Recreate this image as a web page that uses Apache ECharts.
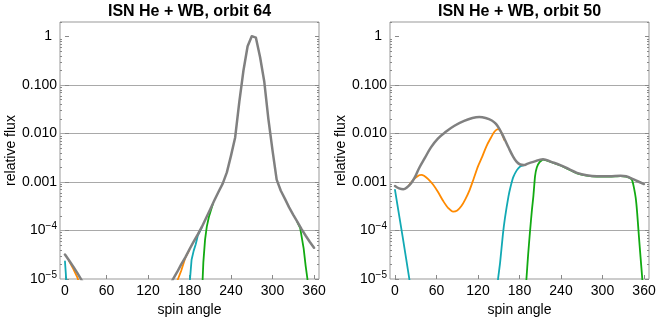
<!DOCTYPE html>
<html><head><meta charset="utf-8">
<script src="https://cdn.jsdelivr.net/npm/echarts@6/dist/echarts.min.js"></script>
<style>html,body{margin:0;padding:0;background:#fff}#c{width:661px;height:325px}</style>
</head><body><div id="c"></div>
<script>
// ---------- axis ticks / labels ----------
const xTicks = [0, 60, 120, 180, 240, 300, 360];
const yTicks = [1e-5, 1e-4, 1e-3, 1e-2, 1e-1, 1];
const yGridLines = [1e-4, 1e-3, 1e-2, 1e-1];
const titles = ['ISN He + WB, orbit 64', 'ISN He + WB, orbit 50'];
const xName = 'spin angle';
const yName = 'relative flux';

// ---------- orbit 64 (left) ----------
const angGray64 = [0,6,12,18,24,30,36,42,48,54,60,66,72,78,84,90,96,102,108,114,120,126,132,138,144,150,156,162,168,174,180,186,192,198,204,210,216,222,228,234,240,246,252,258,264,270,276,282,288,294,300,306,312,318,324,330,336,342,348,354,360];
const gray64 = [3.2e-5,2.4e-5,1.8e-5,1.32e-5,9.5e-6,6.9e-6,5.0e-6,3.5e-6,2.5e-6,1.8e-6,1.26e-6,1.0e-6,7.9e-7,6.3e-7,5.6e-7,5.0e-7,5.0e-7,5.6e-7,6.3e-7,7.9e-7,1.0e-6,1.26e-6,1.8e-6,2.5e-6,4.5e-6,6.8e-6,9.8e-6,1.38e-5,2.0e-5,2.8e-5,4.1e-5,5.9e-5,8.3e-5,1.2e-4,1.82e-4,2.75e-4,4.2e-4,6.3e-4,9.3e-4,1.58e-3,3.5e-3,8.3e-3,0.045,0.20,0.63,1.02,0.95,0.38,0.12,0.020,4.5e-3,1.12e-3,6.6e-4,4.5e-4,3.0e-4,2.1e-4,1.5e-4,1.07e-4,7.8e-5,5.8e-5,4.4e-5];
const angCyan64a = [0, 2, 4];
const cyan64a = [2.3e-5, 8.9e-6, 2.5e-6];
const angOrange64a = [6, 12, 18, 24];
const orange64a = [2.35e-5, 1.62e-5, 1.07e-5, 5.6e-6];
const angOrange64b = [156, 162, 168, 174, 180];
const orange64b = [2.5e-6, 8.9e-6, 1.48e-5, 2.75e-5, 4.0e-5];
const angCyan64b = [178, 181, 183, 186, 189, 192, 198];
const cyan64b = [3.2e-6, 1.12e-5, 2.5e-5, 3.8e-5, 5.2e-5, 7.9e-5, 1.17e-4];
const angGreen64a = [198, 199, 200, 202.5, 205, 208, 214];
const green64a = [4.0e-6, 1.0e-5, 2.2e-5, 6.5e-5, 1.2e-4, 1.9e-4, 3.6e-4];
const angGreen64b = [336, 340, 345, 348, 350.5, 353];
const green64b = [1.48e-4, 1.12e-4, 4.3e-5, 1.82e-5, 1.0e-5, 3.2e-6];

// ---------- orbit 50 (right) ----------
const angGray50 = [0,6,12,18,23,28,35,43,52,62,74,86,100,112,122,131,140,146,152,158,164,170,176,181,186,192,200,214,226,239,251,263,277,292,310,326,334,341,350,360];
const gray50 = [8.3e-4,7.4e-4,7.1e-4,7.9e-4,9.3e-4,1.2e-3,1.95e-3,3.1e-3,5.2e-3,7.9e-3,0.011,0.0145,0.0182,0.0209,0.0219,0.0209,0.0186,0.0158,0.0117,7.9e-3,5.2e-3,3.5e-3,2.6e-3,2.3e-3,2.24e-3,2.4e-3,2.6e-3,2.95e-3,2.6e-3,2.24e-3,1.86e-3,1.55e-3,1.38e-3,1.32e-3,1.32e-3,1.35e-3,1.32e-3,1.2e-3,1.05e-3,9.1e-4];
const angOrange50 = [20,25,30,35,38,42,48,55,62,70,77,84,90,96,102,108,114,120,126,132,138,144,149,153,158];
const orange50 = [8.5e-4,1.05e-3,1.23e-3,1.38e-3,1.41e-3,1.35e-3,1.15e-3,8.9e-4,6.3e-4,4.0e-4,2.9e-4,2.45e-4,2.6e-4,3.2e-4,4.5e-4,6.9e-4,1.2e-3,2.1e-3,3.3e-3,5.4e-3,7.9e-3,0.011,0.0123,0.011,7.4e-3];
const angCyan50a = [0, 5, 11, 16, 21, 26];
const cyan50a = [6.9e-4, 2.5e-4, 7.6e-5, 2.7e-5, 9.5e-6, 3.2e-6];
const angCyan50b = [146,149,152,156,159,164,167,171,176,181,186];
const cyan50b = [3.2e-6,1.0e-5,2.2e-5,8.3e-5,1.82e-4,5.0e-4,7.9e-4,1.26e-3,1.74e-3,2.1e-3,2.2e-3];
const angGreen50 = [188,190,192.5,195,198,200,202.5,205,209,214,226,239,251,263,277,292,310,326,334,341,343,345.5,348,350,352.6,355,357.5,360];
const green50 = [4.0e-6,1.0e-5,3.2e-5,8.9e-5,2.7e-4,5.0e-4,1.32e-3,2.0e-3,2.57e-3,2.9e-3,2.57e-3,2.19e-3,1.82e-3,1.51e-3,1.35e-3,1.29e-3,1.29e-3,1.32e-3,1.29e-3,1.17e-3,1.07e-3,7.6e-4,4.7e-4,2.4e-4,7.6e-5,2.8e-5,1.0e-5,3.2e-6];

// ---------- styling ----------
const FONT = 'Liberation Sans, Arial, Helvetica, sans-serif';
const C_GRAY = '#808080', C_ORANGE = '#ff8a00', C_CYAN = '#12a9b4', C_GREEN = '#12aa12';
const FRAME = '#999999', GRIDC = '#a9a9a9', TICKC = '#888888';
const gridRects = [{left: 60, top: 22, width: 259, height: 257}, {left: 390, top: 22, width: 259, height: 257}];

const minorVals = [];
for (let e = -5; e <= 0; e++) for (let m = 2; m <= 9; m++) { const v = m * Math.pow(10, e); if (v <= 2) minorVals.push(v); }

function yFmt(v) {
  const e = Math.round(Math.log10(v));
  if (e === 0) return '{one|1}';
  if (e === -1) return '0.100';
  if (e === -2) return '0.010';
  if (e === -3) return '0.001';
  return '10{sup|\u2212' + (-e) + '}';
}

const grids = [], xAxes = [], yAxes = [], series = [], mainY = [];
gridRects.forEach((r, g) => {
  grids.push(Object.assign({show: true, borderColor: FRAME, borderWidth: 1, backgroundColor: 'transparent'}, r));
  xAxes.push({
    type: 'value', gridIndex: g, min: -7.2, max: 367.2, position: 'bottom',
    axisLine: {show: false}, splitLine: {show: false},
    axisTick: {show: true, inside: true, length: 4, customValues: xTicks, lineStyle: {color: TICKC}},
    axisLabel: {customValues: xTicks, fontSize: 14, color: '#000', fontFamily: FONT, margin: 5},
    name: xName, nameLocation: 'middle', nameGap: 23,
    nameTextStyle: {fontSize: 14, color: '#000', fontFamily: FONT}
  });
  const base = {type: 'log', logBase: 10, gridIndex: g, min: 1e-5, max: 2,
    axisLine: {show: false}, splitLine: {show: false}, axisLabel: {show: false}, axisTick: {show: false}};
  yAxes.push(Object.assign({}, base, {
    position: 'left',
    axisTick: {show: true, inside: true, length: 4, customValues: yTicks, lineStyle: {color: TICKC}},
    axisLabel: {show: true, customValues: yTicks, formatter: yFmt, fontSize: 14, color: '#000', fontFamily: FONT, margin: 3,
      rich: {sup: {fontSize: 10, fontFamily: FONT, color: '#000', padding: [0, 0, 8, 0]},
             one: {fontSize: 14, fontFamily: FONT, color: '#000', padding: [0, 5, 0, 0]}}},
    name: yName, nameLocation: 'middle', nameGap: 42,
    nameTextStyle: {fontSize: 14, color: '#000', fontFamily: FONT}
  }));
  mainY.push(yAxes.length - 1);
  yAxes.push(Object.assign({}, base, {position: 'left',
    axisTick: {show: false, customValues: yGridLines},
    splitLine: {show: true, lineStyle: {color: GRIDC, width: 1}}}));
  yAxes.push(Object.assign({}, base, {position: 'left',
    axisTick: {show: true, inside: true, length: 2, customValues: minorVals, lineStyle: {color: TICKC}}}));
  yAxes.push(Object.assign({}, base, {position: 'right',
    axisTick: {show: true, inside: true, length: 4, customValues: yTicks, lineStyle: {color: TICKC}}}));
  yAxes.push(Object.assign({}, base, {position: 'right',
    axisTick: {show: true, inside: true, length: 2, customValues: minorVals, lineStyle: {color: TICKC}}}));
});

function mk(xs, ys, color, width, g, z, smooth) {
  return {type: 'line', xAxisIndex: g, yAxisIndex: mainY[g],
    data: xs.map((x, i) => [x, ys[i]]), symbol: 'none', showSymbol: false, clip: true,
    smooth: smooth || false, z: z, silent: true,
    lineStyle: {color: color, width: width, cap: 'round', join: 'round'}};
}
series.push(mk(angCyan64a, cyan64a, C_CYAN, 1.8, 0, 2));
series.push(mk(angOrange64a, orange64a, C_ORANGE, 1.8, 0, 2));
series.push(mk(angOrange64b, orange64b, C_ORANGE, 1.8, 0, 2));
series.push(mk(angCyan64b, cyan64b, C_CYAN, 1.8, 0, 2));
series.push(mk(angGreen64a, green64a, C_GREEN, 1.8, 0, 2));
series.push(mk(angGreen64b, green64b, C_GREEN, 1.8, 0, 2));
series.push(mk(angGray64, gray64, C_GRAY, 2.5, 0, 3));

series.push(mk(angOrange50, orange50, C_ORANGE, 1.8, 1, 2, 0.3));
series.push(mk(angCyan50a, cyan50a, C_CYAN, 1.8, 1, 2));
series.push(mk(angCyan50b, cyan50b, C_CYAN, 1.8, 1, 2, 0.2));
series.push(mk(angGreen50, green50, C_GREEN, 1.8, 1, 2, 0.15));
series.push(mk(angGray50, gray50, C_GRAY, 2.5, 1, 3, 0.4));

const graphic = titles.map((t, g) => ({
  type: 'text', x: gridRects[g].left + gridRects[g].width / 2, y: 12,
  style: {text: t, fontSize: 16, fontWeight: 'bold', fontFamily: FONT, fill: '#000',
    align: 'center', verticalAlign: 'middle', textAlign: 'center', textVerticalAlign: 'middle'}
}));

const chart = echarts.init(document.getElementById('c'), null, {renderer: 'canvas'});
chart.setOption({
  animation: false, backgroundColor: '#fff',
  grid: grids, xAxis: xAxes, yAxis: yAxes, series: series, graphic: graphic
});
</script></body></html>
